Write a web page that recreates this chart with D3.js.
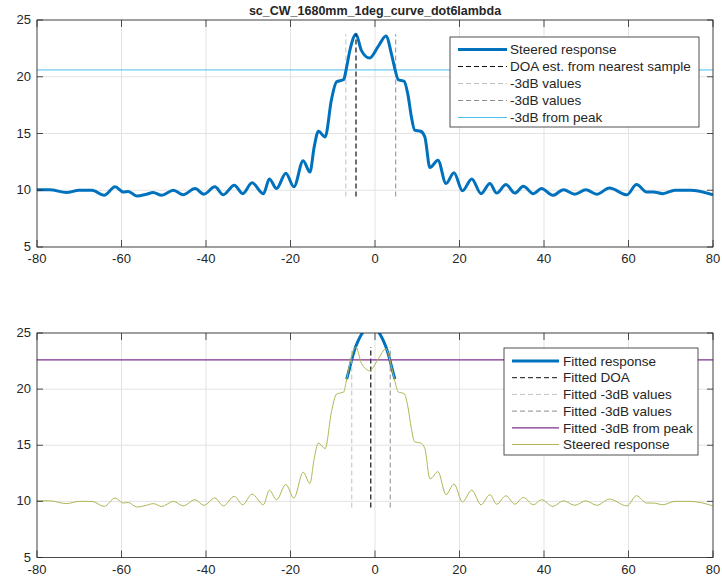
<!DOCTYPE html>
<html>
<head>
<meta charset="utf-8">
<script src="https://cdn.jsdelivr.net/npm/d3@7"></script>
<style>
body { margin: 0; background: #fff; }
text { font-family: "Liberation Sans", Arial, sans-serif; fill: #262626; }
</style>
</head>
<body>
<div id="graph"></div>
<script>
// steered response (angle in deg, level in dB)
var angles = [-80, -77, -73, -70, -67, -64.1, -61.5, -59.6, -58.4, -56.4, -54.1, -52.5, -50.5,
  -47.7, -45.4, -42.6, -40.5, -37.9, -35.9, -33.3, -31.3, -29.1, -26.4, -25, -23.3, -21.1,
  -19.2, -17, -15.4, -14.4, -13.4, -11.8, -10.3, -9.1, -7.4, -6.9, -5.9, -4.5, -3.2, -1.3,
  0.8, 2.6, 3.9, 4.7, 5.5, 6.9, 7.8, 8.6, 9.4, 10.8, 11.8, 13, 14.9, 16.8, 18.7, 20.7, 22.9,
  25.1, 27.2, 28.8, 31, 33.1, 35.1, 37.5, 39.4, 42.1, 44.6, 47.3, 49.9, 52.5, 55.5, 59.6,
  61.9, 64.3, 65.9, 68.1, 71, 74.6, 80];
var steered = [10.05, 10.05, 9.8, 10.0, 10.0, 9.55, 10.3, 9.85, 9.9, 9.5, 9.65, 9.8, 9.55,
  10.0, 9.6, 10.15, 9.65, 10.3, 9.6, 10.45, 9.7, 10.65, 9.7, 11.0, 10.15, 11.5,
  10.3, 12.6, 11.6, 13.8, 15.2, 14.7, 18.0, 19.55, 19.75, 20.5, 22.4, 23.75, 22.3, 21.65,
  22.7, 23.6, 22.0, 20.7, 19.75, 19.6, 18.4, 16.5, 15.3, 15.2, 14.7, 12.0, 12.65, 10.6, 11.55, 9.95, 11.0,
  9.7, 10.6, 9.75, 10.5, 9.75, 10.35, 9.7, 10.15, 9.55, 10.05, 9.65, 10.05, 9.65, 10.2, 9.6,
  10.5, 9.85, 9.85, 9.7, 10.0, 10.0, 9.6];

// fitted response near the main lobe
var fitAngles = [-6.7, -6, -5, -4, -3, -2, -1, 0, 1, 2, 3, 4, 4.7];
var fitted = [20.9, 21.9, 23.3, 24.3, 25.0, 25.45, 25.6, 25.45, 25.0, 24.3, 23.3, 21.9, 20.9];

// markers
var doaTop = -4.5, bwTop = [-6.9, 4.9], peak3dbTop = 20.6;
var doaFit = -1.0, bwFit = [-5.5, 3.6], peak3dbFit = 22.6;
var vSpan = [9.45, 23.75];

var xTicks = [-80, -60, -40, -20, 0, 20, 40, 60, 80];
var yTicks = [5, 10, 15, 20, 25];

var topLegend = ["Steered response", "DOA est. from nearest sample", "-3dB values", "-3dB values", "-3dB from peak"];
var botLegend = ["Fitted response", "Fitted DOA", "Fitted -3dB values", "Fitted -3dB values", "Fitted -3dB from peak", "Steered response"];

var width = 722, height = 585;
var blue = "#0072BD", gray1 = "#C0C0C0", gray2 = "#8C8C8C", cyan = "#4DBEEE",
    purple = "#7E2F8E", olive = "#B0B553", ink = "#262626";

var svg = d3.select("#graph").append("svg")
    .attr("width", width)
    .attr("height", height);

var x = d3.scaleLinear().domain([-80, 80]).range([37, 713]);

// title
svg.append("text")
    .attr("x", 375)
    .attr("y", 15)
    .attr("text-anchor", "middle")
    .style("font-size", "12.5px")
    .style("font-weight", "bold")
    .text("sc_CW_1680mm_1deg_curve_dot6lambda");

function dashLine(g, x1, y1, x2, y2, color, w, dash) {
  return g.append("line")
      .attr("x1", x1).attr("y1", y1).attr("x2", x2).attr("y2", y2)
      .style("stroke", color)
      .style("stroke-width", w)
      .style("stroke-dasharray", dash || null);
}

function drawPanel(id, top, bottom) {
  var y = d3.scaleLinear().domain([5, 25]).range([bottom, top]);
  var g = svg.append("g");

  // grid
  xTicks.forEach(function(t) {
    dashLine(g, x(t), top, x(t), bottom, "#E3E3E3", 1);
  });
  yTicks.forEach(function(t) {
    dashLine(g, 37, y(t), 713, y(t), "#E3E3E3", 1);
  });

  g.append("clipPath").attr("id", "clip" + id)
    .append("rect").attr("x", 37).attr("y", top).attr("width", 676).attr("height", bottom - top);
  var plot = g.append("g").attr("clip-path", "url(#clip" + id + ")");

  var line = d3.line()
      .x(function(d) { return x(d[0]); })
      .y(function(d) { return y(d[1]); })
      .curve(d3.curveMonotoneX);

  var steeredData = angles.map(function(a, i) { return [a, steered[i]]; });

  if (id === "top") {
    dashLine(plot, 37, y(peak3dbTop), 713, y(peak3dbTop), cyan, 1);
    dashLine(plot, x(bwTop[0]), y(vSpan[0]), x(bwTop[0]), y(vSpan[1]), gray1, 1, "5,3");
    dashLine(plot, x(bwTop[1]), y(vSpan[0]), x(bwTop[1]), y(vSpan[1]), gray2, 1, "5,3");
    plot.append("path")
        .datum(steeredData)
        .attr("d", line)
        .style("fill", "none")
        .style("stroke", blue)
        .style("stroke-width", 3)
        .style("stroke-linejoin", "round");
    dashLine(plot, x(doaTop), y(vSpan[0]), x(doaTop), y(vSpan[1]), "#111", 1.2, "5,3");
  } else {
    plot.append("path")
        .datum(fitAngles.map(function(a, i) { return [a, fitted[i]]; }))
        .attr("d", d3.line().x(function(d) { return x(d[0]); }).y(function(d) { return y(d[1]); }).curve(d3.curveNatural))
        .style("fill", "none")
        .style("stroke", blue)
        .style("stroke-width", 3);
    dashLine(plot, x(doaFit), y(vSpan[0]), x(doaFit), y(vSpan[1]), "#111", 1.2, "5,3");
    dashLine(plot, x(bwFit[0]), y(vSpan[0]), x(bwFit[0]), y(vSpan[1]), gray1, 1, "5,3");
    dashLine(plot, x(bwFit[1]), y(vSpan[0]), x(bwFit[1]), y(vSpan[1]), gray2, 1, "5,3");
    dashLine(plot, 37, y(peak3dbFit), 713, y(peak3dbFit), purple, 1.2);
    plot.append("path")
        .datum(steeredData)
        .attr("d", line)
        .style("fill", "none")
        .style("stroke", olive)
        .style("stroke-width", 1);
  }

  // box and ticks
  g.append("rect")
      .attr("x", 37).attr("y", top).attr("width", 676).attr("height", bottom - top)
      .style("fill", "none").style("stroke", ink).style("stroke-width", 0.8);
  xTicks.forEach(function(t) {
    dashLine(g, x(t), bottom, x(t), bottom - 7, ink, 0.8);
    dashLine(g, x(t), top, x(t), top + 7, ink, 0.8);
    g.append("text")
        .attr("x", x(t)).attr("y", bottom + 16)
        .attr("text-anchor", "middle")
        .style("font-size", "13px")
        .text(t);
  });
  yTicks.forEach(function(t) {
    dashLine(g, 37, y(t), 43, y(t), ink, 0.8);
    dashLine(g, 713, y(t), 707, y(t), ink, 0.8);
    g.append("text")
        .attr("x", 31).attr("y", y(t) + 4)
        .attr("text-anchor", "end")
        .style("font-size", "13px")
        .text(t);
  });
  return g;
}

var gTop = drawPanel("top", 20, 247);
var gBot = drawPanel("bot", 333, 557.5);

// legends
function legend(g, labels, styles, bx, by, bw, bh, lx1, lx2, tx, y0, step) {
  g.append("rect")
      .attr("x", bx).attr("y", by).attr("width", bw).attr("height", bh)
      .style("fill", "#fff").style("stroke", ink).style("stroke-width", 0.8);
  labels.forEach(function(lab, i) {
    var yy = y0 + i * step;
    var s = styles[i];
    dashLine(g, lx1, yy, lx2, yy, s[0], s[1], s[2]);
    g.append("text")
        .attr("x", tx).attr("y", yy + 4.7)
        .style("font-size", "13.5px")
        .text(lab);
  });
}

legend(gTop, topLegend,
  [[blue, 3], ["#111", 1, "5,3"], [gray1, 1, "5,3"], [gray2, 1, "5,3"], [cyan, 1]],
  450, 37, 249, 90, 458, 507, 510, 49.5, 17);

legend(gBot, botLegend,
  [[blue, 3], ["#111", 1, "5,3"], [gray1, 1, "5,3"], [gray2, 1, "5,3"], [purple, 1.2], [olive, 1]],
  504, 348, 194, 107, 512, 559, 563, 361, 16.7);
</script>
</body>
</html>
